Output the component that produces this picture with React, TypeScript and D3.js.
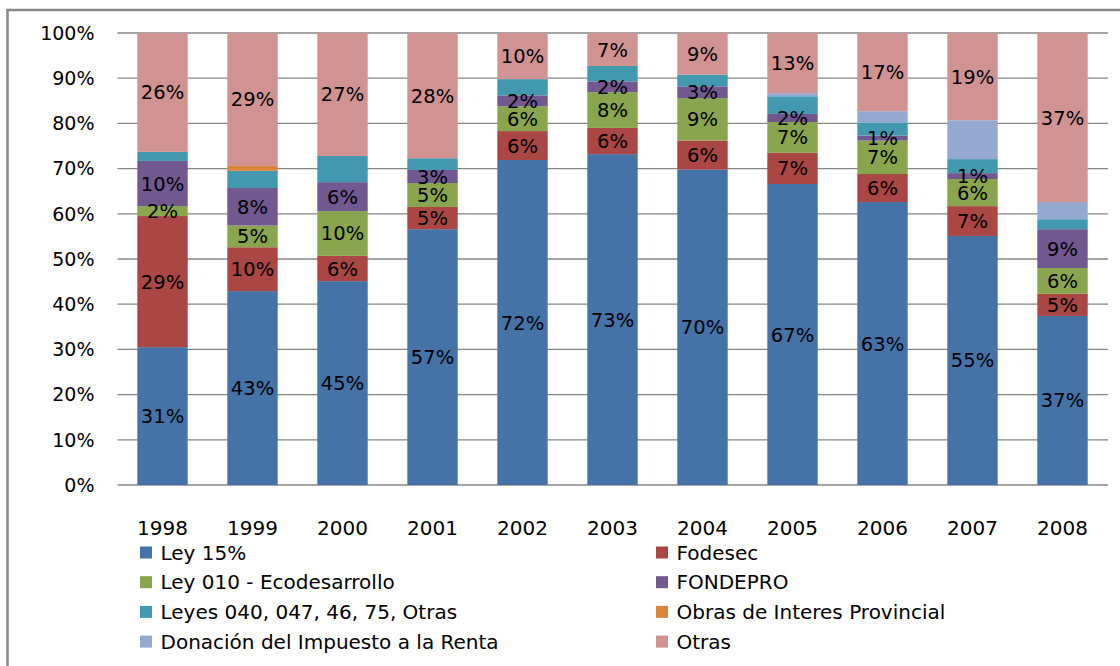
import React from 'react';
import * as d3 from 'd3';

const years = ['1998', '1999', '2000', '2001', '2002', '2003', '2004', '2005', '2006', '2007', '2008'];

const ley15 = [30.5, 42.9, 45.1, 56.6, 71.9, 73.2, 69.8, 66.6, 62.6, 55.1, 37.4];
const fodesec = [29.0, 9.7, 5.6, 4.9, 6.4, 5.8, 6.4, 6.9, 6.2, 6.6, 4.9];
const ley010 = [2.2, 4.8, 9.9, 5.3, 5.5, 7.9, 9.4, 6.8, 7.4, 6.0, 5.7];
const fondepro = [10.0, 8.3, 6.4, 2.9, 2.4, 2.4, 2.6, 1.8, 1.1, 1.3, 8.6];
const leyes = [2.0, 3.8, 5.8, 2.6, 3.6, 3.4, 2.6, 3.9, 2.9, 3.1, 2.2];
const obras = [0, 1.1, 0, 0, 0, 0, 0, 0, 0, 0, 0];
const donacion = [0, 0, 0, 0, 0, 0, 0, 0.7, 2.5, 8.6, 3.8];
const otras = [26.3, 29.4, 27.2, 27.7, 10.2, 7.3, 9.2, 13.3, 17.3, 19.3, 37.4];

const seriesNames = [
  'Ley 15%',
  'Fodesec',
  'Ley 010 - Ecodesarrollo',
  'FONDEPRO',
  'Leyes 040, 047, 46, 75, Otras',
  'Obras de Interes Provincial',
  'Donación del Impuesto a la Renta',
  'Otras',
];
const seriesValues = [ley15, fodesec, ley010, fondepro, leyes, obras, donacion, otras];
const colors = ['#4572A7', '#AA4643', '#89A54E', '#71588F', '#4198AF', '#DB843D', '#93A9CF', '#D19392'];
// series that carry data labels
const labeled = [true, true, true, true, false, false, false, true];

const yTicks = [0, 10, 20, 30, 40, 50, 60, 70, 80, 90, 100];

const font = '"DejaVu Sans", sans-serif';

export default function App() {
  const width = 1120;
  const height = 666;

  const x = d3.scaleBand<string>()
    .domain(years)
    .range([117.5, 1107.5])
    .paddingInner(0.44)
    .paddingOuter(0.22);

  const y = d3.scaleLinear().domain([0, 100]).range([485, 33]);

  const table = years.map((yr, i) => {
    const row: any = { year: yr };
    seriesNames.forEach((s, k) => { row[s] = seriesValues[k][i]; });
    return row;
  });

  const stacked = d3.stack<any>().keys(seriesNames)(table);

  return (
    <svg width={width} height={height} style={{ position: 'absolute', left: 0, top: 0, background: '#fff' }}>
      {/* frame */}
      <path d={`M7.5,${height} V10 H${width}`} fill="none" stroke="#868686" strokeWidth={2.5} />

      {/* gridlines */}
      {yTicks.map(t => (
        <line key={t} x1={117.5} x2={1108} y1={y(t)} y2={y(t)} stroke="#868686" strokeWidth={1.3} />
      ))}

      {/* y tick labels */}
      {yTicks.map(t => (
        <text key={t} x={94.5} y={y(t)} dy="0.36em" textAnchor="end" fontFamily={font} fontSize={19} fill="#000">
          {t}%
        </text>
      ))}

      {/* bars */}
      {stacked.map((layer, k) => (
        <g key={seriesNames[k]} fill={colors[k]}>
          {layer.map((d, i) => (
            d[1] - d[0] > 0 ? (
              <rect key={i} x={x(years[i])} width={x.bandwidth()} y={y(d[1])} height={y(d[0]) - y(d[1])} />
            ) : null
          ))}
        </g>
      ))}

      {/* data labels */}
      {stacked.map((layer, k) => labeled[k] ? (
        <g key={'l' + k}>
          {layer.map((d, i) => {
            const v = d[1] - d[0];
            if (v <= 0) return null;
            return (
              <text key={i} x={(x(years[i]) as number) + x.bandwidth() / 2} y={y((d[0] + d[1]) / 2)} dy="0.36em"
                textAnchor="middle" fontFamily={font} fontSize={19.5} fill="#000">
                {Math.round(v)}%
              </text>
            );
          })}
        </g>
      ) : null)}

      {/* year labels */}
      {years.map(yr => (
        <text key={yr} x={(x(yr) as number) + x.bandwidth() / 2} y={535} textAnchor="middle" fontFamily={font} fontSize={20} fill="#000">
          {yr}
        </text>
      ))}

      {/* legend */}
      {seriesNames.map((s, k) => {
        const col = k % 2;
        const row = Math.floor(k / 2);
        const lx = col === 0 ? 140 : 656;
        const ly = 552.5 + row * 29.7;
        return (
          <g key={s}>
            <rect x={lx} y={ly - 6} width={12} height={12} fill={colors[k]} />
            <text x={lx + 20.5} y={ly} dy="0.36em" fontFamily={font} fontSize={20} fill="#000">{s}</text>
          </g>
        );
      })}
    </svg>
  );
}
